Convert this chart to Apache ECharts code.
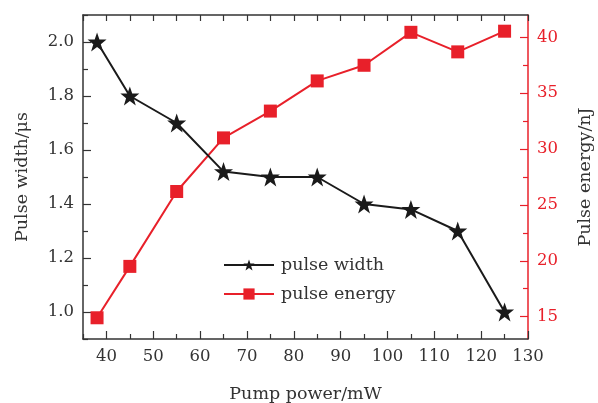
<!DOCTYPE html>
<html>
<head>
<meta charset="utf-8">
<script src="https://cdn.jsdelivr.net/npm/echarts@6/dist/echarts.min.js"></script>
<style>html,body{margin:0;padding:0;background:#fff}#c{width:598px;height:403px}</style>
</head>
<body>
<div id="c"></div>
<script>
const pumpPower = [38, 45, 55, 65, 75, 85, 95, 105, 115, 125];
const pulseWidth = [2.0, 1.8, 1.7, 1.52, 1.5, 1.5, 1.4, 1.38, 1.3, 1.0];
const pulseEnergy = [14.9, 19.5, 26.2, 31.0, 33.4, 36.1, 37.5, 40.45, 38.7, 40.55];
const xTicks = [40, 50, 60, 70, 80, 90, 100, 110, 120, 130];
const xMinorTicks = [35, 45, 55, 65, 75, 85, 95, 105, 115, 125];
const leftTicks = [1.0, 1.2, 1.4, 1.6, 1.8, 2.0];
const leftMinorTicks = [0.9, 1.1, 1.3, 1.5, 1.7, 1.9, 2.1];
const rightTicks = [15, 20, 25, 30, 35, 40];
const rightMinorTicks = [17.5, 22.5, 27.5, 32.5, 37.5];

const FONT = 'DejaVu Serif';
const DARK = '#333333';
const RED = '#e8202a';
const BLACK = '#1a1a1a';
const star = 'path://M50,2 L62,36 L98,36 L69,58 L80,93 L50,72 L20,93 L31,58 L2,36 L38,36 Z';

const chart = echarts.init(document.getElementById('c'), null, {renderer: 'canvas'});
const axisFont = {fontFamily: FONT, fontSize: 16.5, color: DARK};
const titleFont = {fontFamily: FONT, fontSize: 17.5, color: DARK};

chart.setOption({
  animation: false,
  backgroundColor: '#fff',
  grid: {left: 83, right: 70, top: 15, bottom: 64, containLabel: false, outerBoundsMode: 'none'},
  legend: {
    orient: 'vertical', left: 218, top: 251, itemWidth: 50, itemHeight: 14, itemGap: 11,
    textStyle: {fontFamily: FONT, fontSize: 17.5, color: DARK, padding: [0, 0, 0, 2]},
    data: ['pulse width', 'pulse energy']
  },
  xAxis: [
    {type: 'value', min: 35, max: 130, position: 'bottom',
     name: 'Pump power/mW', nameLocation: 'middle', nameGap: 46,
     nameTextStyle: titleFont,
     axisLine: {lineStyle: {color: DARK, width: 1.5}},
     axisTick: {inside: true, length: 8, customValues: xTicks, lineStyle: {color: DARK, width: 1.2}},
     axisLabel: Object.assign({margin: 9, customValues: xTicks}, axisFont),
     splitLine: {show: false}},
    {type: 'value', min: 35, max: 130, position: 'bottom', show: true,
     axisLine: {show: false},
     axisTick: {inside: true, length: 5, customValues: xMinorTicks, lineStyle: {color: DARK, width: 1.2}},
     axisLabel: {show: false}, splitLine: {show: false}},
    {type: 'value', min: 35, max: 130, position: 'top',
     axisLine: {lineStyle: {color: DARK, width: 1.5}},
     axisTick: {inside: true, length: 6, customValues: xTicks.concat(xMinorTicks), lineStyle: {color: DARK, width: 1.2}},
     axisLabel: {show: false}, splitLine: {show: false}}
  ],
  yAxis: [
    {type: 'value', min: 0.9, max: 2.1, position: 'left',
     name: 'Pulse width/\u03bcs', nameLocation: 'middle', nameGap: 52, nameRotate: 90,
     nameTextStyle: titleFont,
     axisLine: {lineStyle: {color: DARK, width: 1.5}},
     axisTick: {inside: true, length: 8, customValues: leftTicks, lineStyle: {color: DARK, width: 1.2}},
     axisLabel: Object.assign({margin: 9, customValues: leftTicks, formatter: v => v.toFixed(1)}, axisFont),
     splitLine: {show: false}},
    {type: 'value', min: 0.9, max: 2.1, position: 'left',
     axisLine: {show: false},
     axisTick: {inside: true, length: 5, customValues: leftMinorTicks, lineStyle: {color: DARK, width: 1.2}},
     axisLabel: {show: false}, splitLine: {show: false}},
    {type: 'value', min: 13, max: 42, position: 'right',
     name: 'Pulse energy/nJ', nameLocation: 'middle', nameGap: 48, nameRotate: 90,
     nameTextStyle: titleFont,
     axisLine: {lineStyle: {color: RED, width: 1.5}},
     axisTick: {inside: true, length: 8, customValues: rightTicks, lineStyle: {color: RED, width: 1.2}},
     axisLabel: Object.assign({}, axisFont, {margin: 9, customValues: rightTicks, color: RED}),
     splitLine: {show: false}},
    {type: 'value', min: 13, max: 42, position: 'right',
     axisLine: {show: false},
     axisTick: {inside: true, length: 5, customValues: rightMinorTicks, lineStyle: {color: RED, width: 1.2}},
     axisLabel: {show: false}, splitLine: {show: false}}
  ],
  series: [
    {name: 'pulse width', type: 'line', xAxisIndex: 0, yAxisIndex: 0,
     data: pumpPower.map((x, i) => [x, pulseWidth[i]]),
     symbol: star, symbolSize: 19,
     lineStyle: {color: BLACK, width: 2}, itemStyle: {color: BLACK}, z: 3},
    {name: 'pulse energy', type: 'line', xAxisIndex: 0, yAxisIndex: 2,
     data: pumpPower.map((x, i) => [x, pulseEnergy[i]]),
     symbol: 'rect', symbolSize: 13,
     lineStyle: {color: RED, width: 2}, itemStyle: {color: RED}, z: 2}
  ]
});
</script>
</body>
</html>
